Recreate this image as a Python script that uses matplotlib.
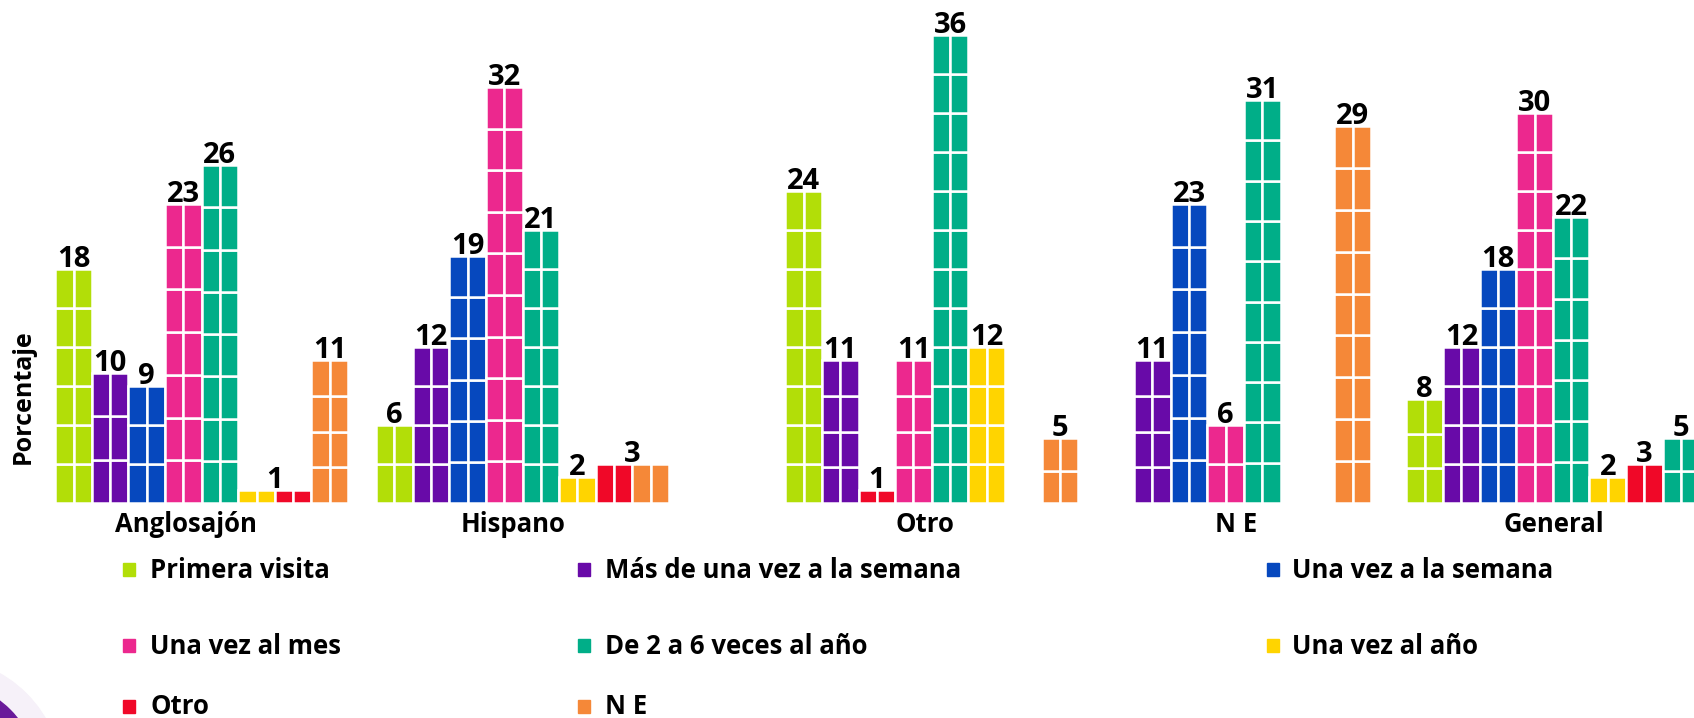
import matplotlib
matplotlib.use("Agg")
import matplotlib.pyplot as plt
from matplotlib.patches import Rectangle, Ellipse

plt.rcParams['font.family'] = ['Open Sans', 'DejaVu Sans']

# ---------------- data ----------------
series = ["Primera visita", "Más de una vez a la semana", "Una vez a la semana",
          "Una vez al mes", "De 2 a 6 veces al año", "Una vez al año", "Otro", "N E"]
colors = ["#B2DE08", "#680AA8", "#0648BE", "#EC288E", "#00AE88", "#FFD400", "#F00828", "#F58838"]

groups = ["Anglosajón", "Hispano", "Otro", "N E", "General"]

# series index (colour) of each bar, and its value, in drawing order
anglo_series = [0, 1, 2, 3, 4, 5, 6, 7]
anglo_values = [18, 10, 9, 23, 26, 1, 1, 11]
hisp_series = [0, 1, 2, 3, 4, 5, 6, 7]
hisp_values = [6, 12, 19, 32, 21, 2, 3, 3]
otro_series = [0, 1, 6, 3, 4, 5, 7]
otro_values = [24, 11, 1, 11, 36, 12, 5]
ne_series = [1, 2, 3, 4, 7]
ne_values = [11, 23, 6, 31, 29]
gen_series = [0, 1, 2, 3, 4, 5, 6, 4]
gen_values = [8, 12, 18, 30, 22, 2, 3, 5]

group_series = [anglo_series, hisp_series, otro_series, ne_series, gen_series]
group_values = [anglo_values, hisp_values, otro_values, ne_values, gen_values]

# ---------------- layout ----------------
W, H = 1694, 718
group_start = [0, 8.77, 19.95, 28.48, 36.92]
slot_pos = [[0, 1, 2, 3, 4, 5, 6, 7],
            [0, 1, 2, 3, 4, 5, 6, 7],
            [0, 1, 2, 3, 4, 5, 7],
            [1, 2, 3, 4, 6.47],
            [0, 1, 2, 3, 4, 5, 6, 7]]
label_off = [3.07, 3.23, 3.32, 3.28, 3.53]
slot_px = 36.6
first_center_px = 73.5
baseline_px = 503
unit_px = 13.0
brick_units = 3.1
BOLD = "bold"

fig = plt.figure(figsize=(W / 100, H / 100), dpi=100)
fig.patch.set_facecolor("white")

# decorative corner swoosh
fig.add_artist(Ellipse((-60 / W, (H - 780) / H), 2 * 122 / W, 2 * 122 / H,
                       transform=fig.transFigure, color="#F6F1F9", zorder=0))
fig.add_artist(Ellipse((-60 / W, (H - 780) / H), 2 * 99 / W, 2 * 99 / H,
                       transform=fig.transFigure, color="#6A1A9A", zorder=0))

ax = fig.add_axes([0, (H - baseline_px) / H, 1, baseline_px / H])
ax.set_xlim(-first_center_px / slot_px, (W - first_center_px) / slot_px)
ax.set_ylim(0, baseline_px / unit_px)
ax.axis("off")

for gi, (sidx, vals) in enumerate(zip(group_series, group_values)):
    xs = [group_start[gi] + s for s in slot_pos[gi]]
    for x, si, v in zip(xs, sidx, vals):
        n = max(1, round(v / brick_units))
        h = v / n
        bottoms = [k * h for k in range(n)]
        for dx in (-0.25, 0.25):
            ax.bar([x + dx] * n, [h] * n, width=0.5, bottom=bottoms,
                   color=colors[si], edgecolor="white", linewidth=1.8)
    # value labels (consecutive equal values share one label)
    i = 0
    while i < len(vals):
        j = i
        while j + 1 < len(vals) and vals[j + 1] == vals[i] and slot_pos[gi][j + 1] - slot_pos[gi][j] == 1:
            j += 1
        xm = (xs[i] + xs[j]) / 2
        ax.annotate(str(vals[i]), (xm, vals[i]), xytext=(0, 2), textcoords="offset pixels",
                    ha="center", va="baseline", fontsize=21, fontweight=BOLD, color="black")
        i = j + 1
    ax.annotate(groups[gi], (group_start[gi] + label_off[gi], 0), xytext=(0, -29),
                textcoords="offset pixels", ha="center", va="baseline",
                fontsize=18.5, fontweight=BOLD, color="black", annotation_clip=False)

fig.text(23 / W, 1 - 397 / H, "Porcentaje", rotation=90, ha="center", va="center",
         fontsize=18, fontweight=BOLD, color="black")

# legend (row-major, 3 columns)
col_marker_px = [123, 578, 1267]
col_text_px = [150, 605, 1292]
row_center_px = [569, 645, 706]
for k, name in enumerate(series):
    r, c = divmod(k, 3)
    cx, cy = col_marker_px[c], row_center_px[r]
    fig.add_artist(Rectangle((cx / W, 1 - (cy + 6.5) / H), 12 / W, 13 / H,
                             transform=fig.transFigure, color=colors[k]))
    fig.text(col_text_px[c] / W, 1 - (cy + 8.5) / H, name, ha="left", va="baseline",
             fontsize=18.5, fontweight=BOLD, color="black")

fig.savefig("out.png", dpi=100)
